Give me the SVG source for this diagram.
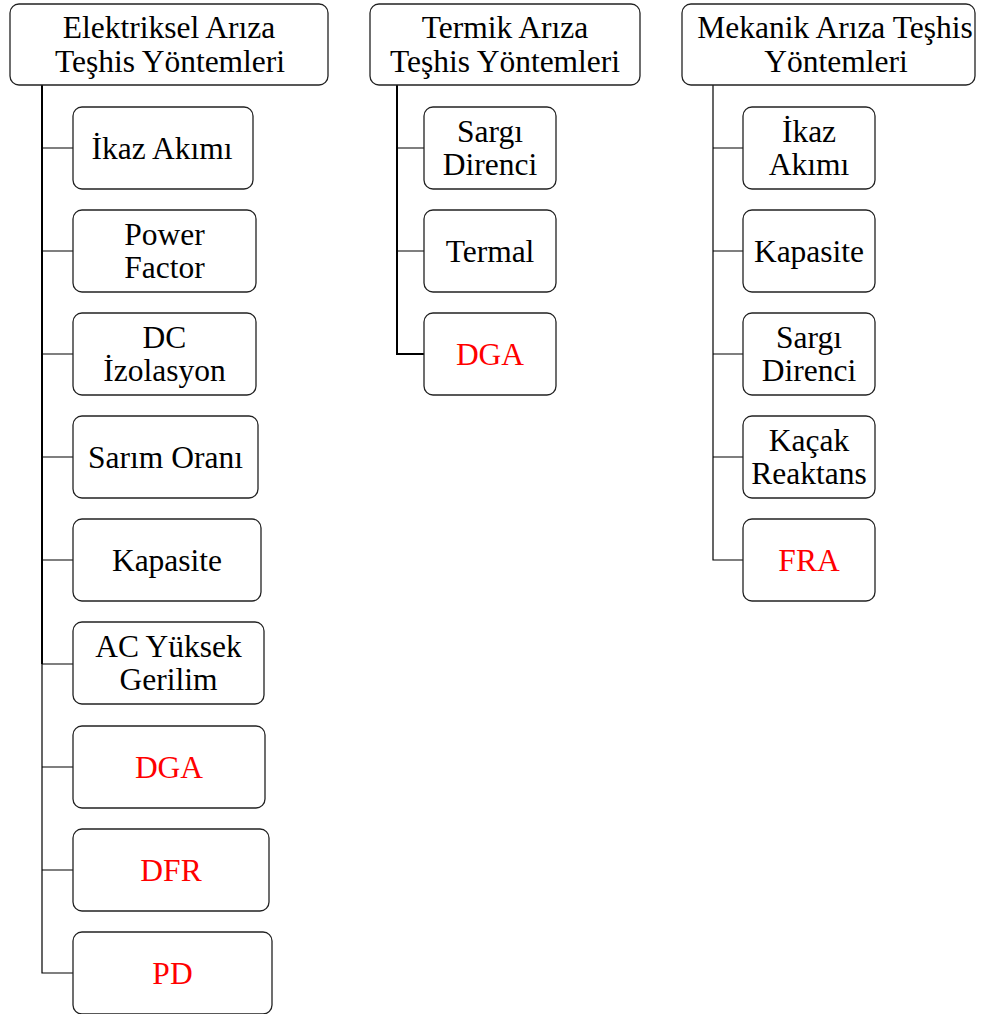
<svg xmlns="http://www.w3.org/2000/svg" width="993" height="1014" viewBox="0 0 993 1014">
<style>
rect{fill:#fff;stroke:#222;stroke-width:1.3}
text{font-family:"Liberation Serif","Times New Roman",serif;font-size:31.5px;text-anchor:middle;fill:#000}
.r{fill:#ff0000}
.c{stroke:#000;fill:none}
</style>
<rect width="993" height="1014" style="fill:#fff;stroke:none"/>
<g id="connectors">
<path class="c" d="M42 85V664" stroke-width="2"/>
<path class="c" d="M42 664V973H73" stroke-width="1.2"/>
<path class="c" d="M42 148H73M42 251H73M42 354H73M42 457H73M42 560H73M42 664H73M42 767H73M42 870H73" stroke-width="1.2"/>
<path class="c" d="M397 85V354H424" stroke-width="2"/>
<path class="c" d="M397 148H424M397 251H424" stroke-width="1.2"/>
<path class="c" d="M713 85V560H743M713 148H743M713 251H743M713 354H743M713 457H743" stroke-width="1.2"/>
</g>
<g id="h1"><rect x="10" y="4" width="318" height="81" rx="9"/><text x="169" y="38">Elektriksel Arıza</text><text x="170" y="71.5">Teşhis Yöntemleri</text></g>
<g id="h2"><rect x="370" y="4" width="270" height="81" rx="9"/><text x="505" y="38">Termik Arıza</text><text x="505" y="71.5">Teşhis Yöntemleri</text></g>
<g id="h3"><rect x="682" y="4" width="293" height="81" rx="9"/><text x="835" y="38">Mekanik Arıza Teşhis</text><text x="836" y="71.5">Yöntemleri</text></g>

<g id="e1"><rect x="73" y="107" width="180" height="82" rx="9"/><text x="162" y="159">İkaz Akımı</text></g>
<g id="e2"><rect x="73" y="210" width="183" height="82" rx="9"/><text x="164.5" y="244.5">Power</text><text x="164.5" y="278">Factor</text></g>
<g id="e3"><rect x="73" y="313" width="183" height="82" rx="9"/><text x="164.5" y="347.5">DC</text><text x="164.5" y="381">İzolasyon</text></g>
<g id="e4"><rect x="73" y="416" width="185" height="82" rx="9"/><text x="165.5" y="468">Sarım Oranı</text></g>
<g id="e5"><rect x="73" y="519" width="188" height="82" rx="9"/><text x="167" y="571">Kapasite</text></g>
<g id="e6"><rect x="73" y="622" width="191" height="82" rx="9"/><text x="168.5" y="656.5">AC Yüksek</text><text x="168.5" y="690">Gerilim</text></g>
<g id="e7"><rect x="73" y="726" width="192" height="82" rx="9"/><text class="r" x="169" y="778">DGA</text></g>
<g id="e8"><rect x="73" y="829" width="196" height="82" rx="9"/><text class="r" x="171" y="881">DFR</text></g>
<g id="e9"><rect x="73" y="932" width="199" height="82" rx="9"/><text class="r" x="172.5" y="984">PD</text></g>

<g id="t1"><rect x="424" y="107" width="132" height="82" rx="9"/><text x="490" y="141.5">Sargı</text><text x="490" y="175">Direnci</text></g>
<g id="t2"><rect x="424" y="210" width="132" height="82" rx="9"/><text x="490" y="262">Termal</text></g>
<g id="t3"><rect x="424" y="313" width="132" height="82" rx="9"/><text class="r" x="490" y="365">DGA</text></g>

<g id="m1"><rect x="743" y="107" width="132" height="82" rx="9"/><text x="809" y="141.5">İkaz</text><text x="809" y="175">Akımı</text></g>
<g id="m2"><rect x="743" y="210" width="132" height="82" rx="9"/><text x="809" y="262">Kapasite</text></g>
<g id="m3"><rect x="743" y="313" width="132" height="82" rx="9"/><text x="809" y="347.5">Sargı</text><text x="809" y="381">Direnci</text></g>
<g id="m4"><rect x="743" y="416" width="132" height="82" rx="9"/><text x="809" y="450.5">Kaçak</text><text x="809" y="484">Reaktans</text></g>
<g id="m5"><rect x="743" y="519" width="132" height="82" rx="9"/><text class="r" x="809" y="571">FRA</text></g>
</svg>
